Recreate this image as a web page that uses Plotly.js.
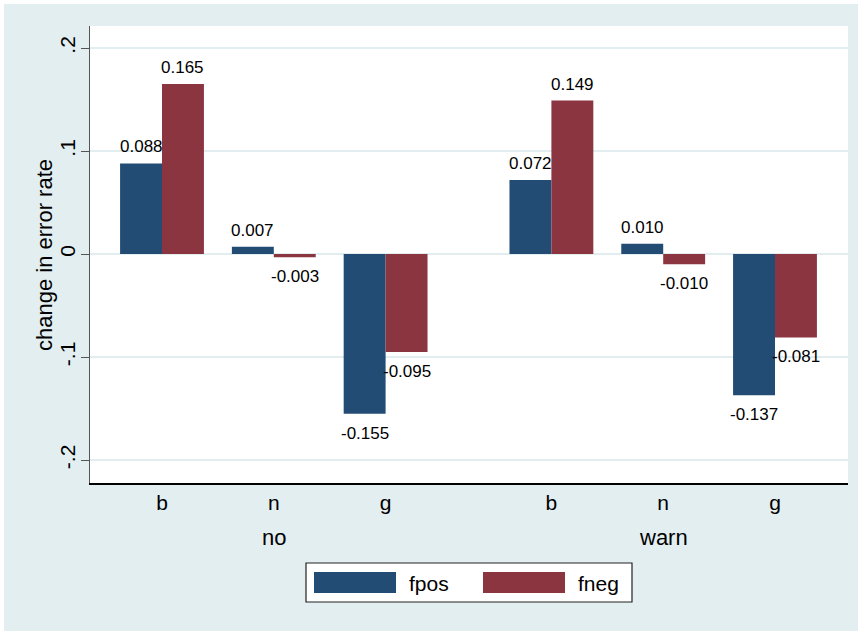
<!DOCTYPE html>
<html>
<head>
<meta charset="utf-8">
<script src="https://cdn.plot.ly/plotly-3.0.1.min.js"></script>
<style>html,body{margin:0;padding:0;background:#fff;}#chart{width:858px;height:631px;}</style>
</head>
<body>
<div id="chart"></div>
<script>
// ---- data ----
var groups = ["no", "warn"];
var categories = ["b", "n", "g"];
var seriesNames = ["fpos", "fneg"];
var fpos = [0.088, 0.007, -0.155, 0.072, 0.010, -0.137];
var fneg = [0.165, -0.003, -0.095, 0.149, -0.010, -0.081];
var yTickVals = [-0.2, -0.1, 0, 0.1, 0.2];
var yTickText = ["-.2", "-.1", "0", ".1", ".2"];
var yTitle = "change in error rate";

// ---- layout helpers ----
var W = 858, H = 631;
var M = {l: 90, r: 10, t: 26, b: 148};
var PW = W - M.l - M.r, PH = H - M.t - M.b;
function px2x(p) { return (p - M.l) / PW; }
function px2y(p) { return (H - M.b - p) / PH; }

var groupStride = 3.483;
var bargap = 0.25;
var xs = [], xLabels = [];
groups.forEach(function (g, gi) {
  categories.forEach(function (c, ci) {
    xs.push(gi * groupStride + ci);
    xLabels.push(c);
  });
});
var colors = ["#224C74", "#8B3541"];
var FONT = '"Liberation Sans", Arial, Helvetica, sans-serif';
var series = [fpos, fneg];

var traces = series.map(function (vals, si) {
  return {
    type: "bar", x: xs, y: vals, name: seriesNames[si],
    marker: {color: colors[si], line: {width: 0}},
    hoverinfo: "skip"
  };
});

var annotations = [];
var halfBar = (1 - bargap) / 4;
series.forEach(function (vals, si) {
  vals.forEach(function (v, i) {
    annotations.push({
      x: xs[i] + (si === 0 ? -halfBar : halfBar), y: v,
      xref: "x", yref: "y",
      text: v.toFixed(3), showarrow: false,
      yanchor: v >= 0 ? "bottom" : "top",
      yshift: v >= 0 ? 5 : -8,
      font: {family: FONT, size: 17, color: "#000"}
    });
  });
});
groups.forEach(function (g, gi) {
  annotations.push({
    x: gi * groupStride + 1, y: px2y(537), xref: "x", yref: "paper",
    text: g, showarrow: false, yanchor: "middle",
    font: {family: FONT, size: 22, color: "#000"}
  });
});
// y axis title
annotations.push({
  xref: "paper", yref: "paper", x: px2x(44), y: px2y(255),
  xanchor: "center", yanchor: "middle", textangle: -90,
  text: yTitle, showarrow: false,
  font: {family: FONT, size: 22, color: "#000"}
});

// manual legend (wide Stata-style keys)
var shapes = [
  {type: "rect", xref: "paper", yref: "paper", x0: px2x(0), x1: px2x(4), y0: px2y(H), y1: px2y(0), fillcolor: "#fff", line: {width: 0}},
  {type: "rect", xref: "paper", yref: "paper", x0: px2x(0), x1: px2x(W), y0: px2y(4), y1: px2y(0), fillcolor: "#fff", line: {width: 0}},
  {type: "rect", xref: "paper", yref: "paper", x0: px2x(306), x1: px2x(632), y0: px2y(602), y1: px2y(563), fillcolor: "#fff", line: {color: "#222", width: 1.2}}
];
var keyX = [314, 483];
seriesNames.forEach(function (n, si) {
  shapes.push({type: "rect", xref: "paper", yref: "paper",
    x0: px2x(keyX[si]), x1: px2x(keyX[si] + 82), y0: px2y(593), y1: px2y(572),
    fillcolor: colors[si], line: {width: 0}});
  annotations.push({xref: "paper", yref: "paper", x: px2x(keyX[si] + 93), y: px2y(583),
    xanchor: "left", yanchor: "middle", text: n, showarrow: false,
    font: {family: FONT, size: 21, color: "#000"}});
});

var layout = {
  width: W, height: H,
  margin: M,
  paper_bgcolor: "#E2EEF0",
  plot_bgcolor: "#FFFFFF",
  showlegend: false,
  barmode: "group",
  bargap: bargap,
  bargroupgap: 0,
  font: {family: FONT, color: "#000"},
  xaxis: {
    range: [(90 - 162) / 111.8, (848 - 162) / 111.8],
    tickmode: "array", tickvals: xs, ticktext: xLabels,
    showgrid: false, zeroline: false,
    showline: true, linecolor: "#000", linewidth: 1.5,
    ticks: "", ticklabelstandoff: 0,
    tickfont: {family: FONT, size: 21, color: "#000"},
    fixedrange: true
  },
  yaxis: {
    range: [-0.2223, 0.2214],
    tickmode: "array", tickvals: yTickVals, ticktext: yTickText,
    tickangle: -90,
    showgrid: true, gridcolor: "#E1EDEF", gridwidth: 1.5,
    zeroline: false,
    showline: true, linecolor: "#555", linewidth: 1,
    ticks: "outside", ticklen: 8, tickcolor: "#555", tickwidth: 1,
    ticklabelstandoff: -2,
    tickfont: {family: FONT, size: 21, color: "#000"},
    automargin: false,
    fixedrange: true
  },
  annotations: annotations,
  shapes: shapes
};

Plotly.newPlot("chart", traces, layout, {staticPlot: true, displayModeBar: false});
</script>
</body>
</html>
